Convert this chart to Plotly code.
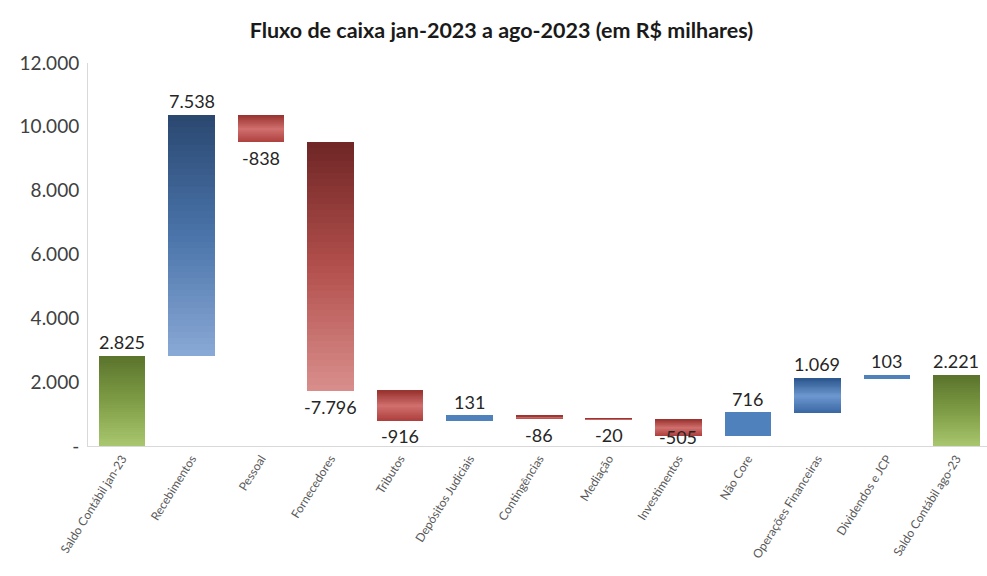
import plotly.graph_objects as go

categories = ["Saldo Contábil jan-23", "Recebimentos", "Pessoal", "Fornecedores", "Tributos",
              "Depósitos Judiciais", "Contingências", "Mediação", "Investimentos", "Não Core",
              "Operações Financeiras", "Dividendos e JCP", "Saldo Contábil ago-23"]
values = [2825, 7538, -838, -7796, -916, 131, -86, -20, -505, 716, 1069, 103, 2221]
measures = ["total", "relative", "relative", "relative", "relative", "relative", "relative",
            "relative", "relative", "relative", "relative", "relative", "total"]
y_tickvals = [0, 2000, 4000, 6000, 8000, 10000, 12000]
y_ticktext = ["-", "2.000", "4.000", "6.000", "8.000", "10.000", "12.000"]

# gradient styles (top -> bottom colour stops)
STYLES = {
    "green": ["#5a742c", "#7e9c45", "#a9c76e"],
    "blue_lin": ["#2a4770", "#4a74aa", "#8aa9d6"],
    "red_lin": ["#6e2625", "#b24f4c", "#d98f8d"],
    "red_rad": ["#9a3330", "#d0706e", "#ad3f3d"],
    "blue_rad": ["#2b578e", "#6d97cf", "#3a67a3"],
    "blue_flat": ["#4f81bd", "#4f81bd", "#4f81bd"],
}
style_of = ["green", "blue_lin", "red_rad", "red_lin", "red_rad", "blue_flat", "red_rad",
            "red_rad", "red_rad", "blue_flat", "blue_rad", "blue_flat", "green"]


def hex2rgb(h):
    h = h.lstrip("#")
    return [int(h[i:i + 2], 16) for i in (0, 2, 4)]


def interp(stops, t):
    # t: 0 at top, 1 at bottom
    n = len(stops) - 1
    pos = t * n
    i = min(int(pos), n - 1)
    f = pos - i
    a, b = hex2rgb(stops[i]), hex2rgb(stops[i + 1])
    c = [round(a[k] + (b[k] - a[k]) * f) for k in range(3)]
    return f"rgb({c[0]},{c[1]},{c[2]})"


# compute waterfall extents
bottoms, tops = [], []
running = 0
for v, m in zip(values, measures):
    if m == "total":
        bottoms.append(0)
        tops.append(v)
        running = v
    else:
        start, end = running, running + v
        bottoms.append(min(start, end))
        tops.append(max(start, end))
        running = end

fig = go.Figure()
N = 40
for k in range(N):
    base = [b + (t - b) * k / N for b, t in zip(bottoms, tops)]
    hgt = [(t - b) / N for b, t in zip(bottoms, tops)]
    cols = [interp(STYLES[s], 1 - (k + 0.5) / N) for s in style_of]
    fig.add_trace(go.Bar(x=categories, y=hgt, base=base, marker=dict(color=cols, line=dict(width=0)),
                         width=0.67, showlegend=False, hoverinfo="skip"))


def fmt(v):
    return f"{v:,}".replace(",", ".")


label_font = dict(family="Lato, sans-serif", size=18, color="#262626")
for cat, v, b, t in zip(categories, values, bottoms, tops):
    if v >= 0:
        fig.add_annotation(x=cat, y=t, text=fmt(v), showarrow=False, yanchor="bottom", yshift=1,
                           font=label_font)
    elif b < 700:
        # keep label inside the plot area (as the spreadsheet does)
        fig.add_annotation(x=cat, y=0, text=fmt(v), showarrow=False, yanchor="bottom", yshift=-4,
                           font=label_font)
    else:
        fig.add_annotation(x=cat, y=b, text=fmt(v), showarrow=False, yanchor="top", yshift=-3,
                           font=label_font)

fig.update_layout(
    width=987, height=576,
    barmode="overlay",
    bargap=0,
    plot_bgcolor="white", paper_bgcolor="white",
    margin=dict(l=88, r=0, t=63, b=130),
    title=dict(text="<b>Fluxo de caixa jan-2023 a ago-2023 (em R$ milhares)</b>",
               x=0.508, xanchor="center", y=0.947, yanchor="middle",
               font=dict(family="Lato, sans-serif", size=21.5, color="#1a1a1a")),
    font=dict(family="Lato, sans-serif"),
)
fig.update_xaxes(type="category", range=[-0.49, 12.44], showline=True, linecolor="#d9d9d9",
                 linewidth=1, ticks="", tickangle=-58,
                 tickfont=dict(family="Lato, sans-serif", size=12, color="#595959"),
                 showgrid=False, zeroline=False, fixedrange=True)
fig.update_yaxes(range=[0, 12000], tickvals=y_tickvals, ticktext=y_ticktext, showline=True,
                 linecolor="#d9d9d9", linewidth=1, showgrid=False, zeroline=False, ticks="",
                 ticklabelstandoff=4,
                 tickfont=dict(family="Lato, sans-serif", size=19, color="#404040"))

fig.write_html("out.html")
